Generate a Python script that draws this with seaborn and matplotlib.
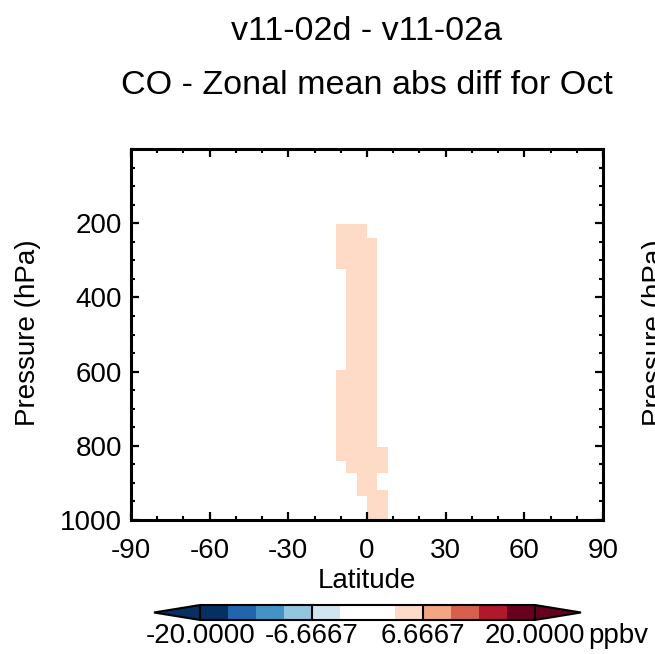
import numpy as np
import pandas as pd
import matplotlib
matplotlib.use("Agg")
import matplotlib.pyplot as plt
from matplotlib.colors import ListedColormap, BoundaryNorm
from matplotlib.ticker import MultipleLocator, FormatStrFormatter
import seaborn as sns

sns.set_theme(style="ticks")
plt.rcParams["font.family"] = ["Liberation Sans", "DejaVu Sans"]
plt.rcParams["axes.unicode_minus"] = False
for k in ["text.color", "axes.labelcolor", "xtick.color", "ytick.color", "axes.edgecolor"]:
    plt.rcParams[k] = "black"

# ----------------------------------------------------------------------
# data: CO zonal mean abs diff (ppbv), v11-02d minus v11-02a, October
# ----------------------------------------------------------------------
lat_edges = [-90] + list(range(-88, 89, 4)) + [90]           # 4x5 grid, half polar boxes
p_edges = [0, 202, 240, 323, 595, 802, 842, 872, 919, 934, 1000]  # hPa, top -> surface

# only the tropical columns show a visible difference, the rest is ~0
band_lats = [-10, -6, -2, 2, 6]
band_diff = [
    [0.8, 1.0, 1.2, 1.1, 0.9],   # 0-202
    [3.6, 3.9, 4.2, 3.1, 1.8],   # 202-240
    [3.5, 4.1, 4.6, 4.3, 2.2],   # 240-323
    [2.9, 3.8, 4.4, 4.5, 2.5],   # 323-595
    [3.6, 4.0, 4.7, 4.6, 2.8],   # 595-802
    [3.4, 3.9, 4.5, 4.8, 3.5],   # 802-842
    [2.7, 3.6, 4.3, 4.9, 3.7],   # 842-872
    [2.4, 3.1, 3.9, 4.6, 3.2],   # 872-919
    [2.1, 2.8, 3.5, 4.4, 3.8],   # 919-934
    [1.8, 2.6, 3.2, 4.2, 4.0],   # 934-1000
]

levels = np.linspace(-20, 20, 13)
cb_ticks = [-20.0, -6.6667, 6.6667, 20.0]
colors = ["#053061", "#2166ac", "#4393c3", "#92c5de", "#d1e5f0", "#ffffff",
          "#ffffff", "#fddbc7", "#f4a582", "#d6604d", "#b2182b", "#67001f"]

lat_mid = [(a + b) / 2 for a, b in zip(lat_edges[:-1], lat_edges[1:])]
field = pd.DataFrame(0.0, index=range(len(p_edges) - 1), columns=lat_mid)
for lat, col in zip(band_lats, np.array(band_diff).T):
    field[float(lat)] = col

cmap = ListedColormap(colors)
cmap.set_under("#053061")
cmap.set_over("#67001f")
norm = BoundaryNorm(levels, cmap.N)

# ----------------------------------------------------------------------
# figure
# ----------------------------------------------------------------------
W, H = 655, 654
fig = plt.figure(figsize=(W / 100, H / 100), dpi=100)
ax = fig.add_axes([131 / W, 1 - 520 / H, 472 / W, 371 / H])
ax.set_axisbelow(False)
mesh = ax.pcolormesh(lat_edges, p_edges, field.values, cmap=cmap, norm=norm,
                     shading="flat", edgecolors="none", antialiased=False)
ax.set_xlim(-90, 90)
ax.set_ylim(1000, 0)
ax.set_xticks(range(-90, 91, 30))
ax.set_yticks([200, 400, 600, 800, 1000])
ax.xaxis.set_minor_locator(MultipleLocator(10))
ax.yaxis.set_minor_locator(MultipleLocator(50))
ax.tick_params(which="both", direction="in", top=True, right=True, color="black")
ax.tick_params(which="major", length=6, width=1.6, labelsize=20)
ax.tick_params(which="minor", length=3, width=1.5)
ax.tick_params(axis="x", pad=13)
ax.tick_params(axis="y", pad=6.5)
for sp in ax.spines.values():
    sp.set_linewidth(2.2)
    sp.set_color("black")
ax.set_xlabel("Latitude", fontsize=20, labelpad=3)

fig.text(28.5 / W, 1 - 333 / H, "Pressure (hPa)", rotation=90, fontsize=20,
         ha="center", va="center")
# y label of the neighbouring panel, cut by the image edge
fig.text((28.5 + 627) / W, 1 - 333 / H, "Pressure (hPa)", rotation=90, fontsize=20,
         ha="center", va="center")

fig.text(367 / W, 1 - 40 / H, "v11-02d - v11-02a", fontsize=24.5,
         ha="center", va="baseline")
fig.text(367 / W, 1 - 94 / H, "CO - Zonal mean abs diff for Oct", fontsize=24.5,
         ha="center", va="baseline")

cax = fig.add_axes([154 / W, 1 - 620 / H, 427 / W, 15 / H])
cax.set_axisbelow(False)
cb = fig.colorbar(mesh, cax=cax, orientation="horizontal", extend="both",
                  extendfrac=0.138, ticks=cb_ticks)
cb.minorticks_off()
cb.ax.xaxis.set_major_formatter(FormatStrFormatter("%.4f"))
cb.outline.set_linewidth(1.5)
cb.outline.set_edgecolor("black")
cb.ax.tick_params(direction="in", length=10.8, width=1.5, color="black",
                  pad=2, labelsize=20)
fig.text(588 / W, 1 - 643 / H, "ppbv", fontsize=20, ha="left", va="baseline")

fig.savefig("out.png", dpi=100)
